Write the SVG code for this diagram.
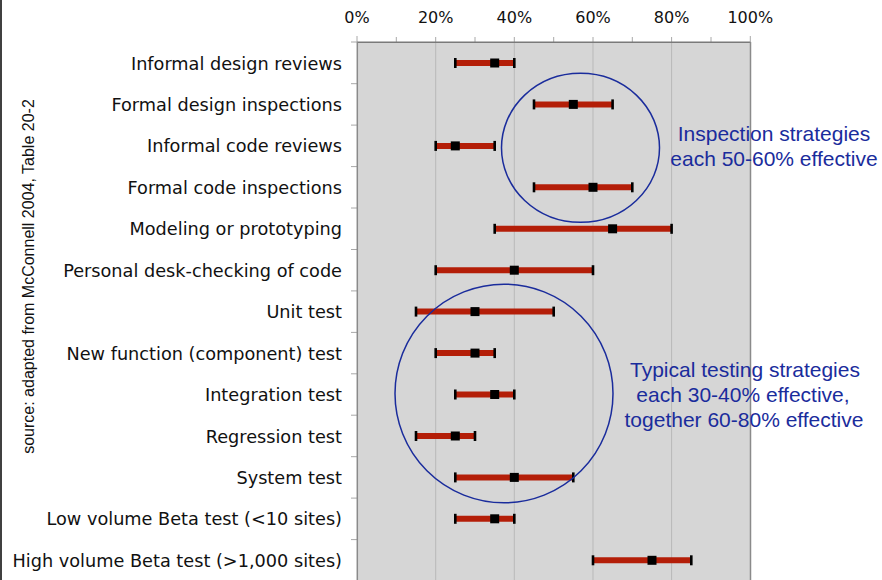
<svg xmlns="http://www.w3.org/2000/svg" width="882" height="580" viewBox="0 0 882 580">
<style>
.lbl{font-family:"DejaVu Sans",Verdana,sans-serif;font-size:17.7px;fill:#111;text-anchor:end}
.ax{font-family:"DejaVu Sans",Verdana,sans-serif;font-size:16px;fill:#111;text-anchor:middle}
.ann{font-family:"Liberation Sans",Arial,sans-serif;font-size:21px;fill:#1a2c9c;text-anchor:middle}
.src{font-family:"Liberation Sans",Arial,sans-serif;font-size:16px;fill:#111;text-anchor:middle}
.bar{stroke:#b41e08;stroke-width:6}
.cap{stroke:#000;stroke-width:2.6}
.med{fill:#000}
.grid{stroke:#b9b9b9;stroke-width:1}
.tick{stroke:#a8a8a8;stroke-width:1}
.ring{fill:none;stroke:#1a2c9c;stroke-width:1.5}
</style>
<rect width="882" height="580" fill="#fff"/>
<line x1="1" y1="0" x2="1" y2="580" stroke="#000" stroke-width="1.5"/>
<g id="plot">
<rect x="357" y="42" width="393.3" height="540" fill="#d6d6d6"/>
<g class="grid">
<line x1="435.7" y1="42" x2="435.7" y2="580"/>
<line x1="514.3" y1="42" x2="514.3" y2="580"/>
<line x1="593" y1="42" x2="593" y2="580"/>
<line x1="671.6" y1="42" x2="671.6" y2="580"/>
</g>
<g class="tick">
<line x1="357" y1="36" x2="357" y2="42"/>
<line x1="396.3" y1="37" x2="396.3" y2="42"/>
<line x1="435.7" y1="37" x2="435.7" y2="42"/>
<line x1="475" y1="37" x2="475" y2="42"/>
<line x1="514.3" y1="37" x2="514.3" y2="42"/>
<line x1="553.7" y1="37" x2="553.7" y2="42"/>
<line x1="593" y1="37" x2="593" y2="42"/>
<line x1="632.3" y1="37" x2="632.3" y2="42"/>
<line x1="671.6" y1="37" x2="671.6" y2="42"/>
<line x1="711" y1="37" x2="711" y2="42"/>
<line x1="750.3" y1="36" x2="750.3" y2="42"/>
<line x1="351" y1="42" x2="357" y2="42"/>
<line x1="351" y1="83.7" x2="357" y2="83.7"/>
<line x1="351" y1="125.1" x2="357" y2="125.1"/>
<line x1="351" y1="166.6" x2="357" y2="166.6"/>
<line x1="351" y1="208" x2="357" y2="208"/>
<line x1="351" y1="249.5" x2="357" y2="249.5"/>
<line x1="351" y1="290.9" x2="357" y2="290.9"/>
<line x1="351" y1="332.4" x2="357" y2="332.4"/>
<line x1="351" y1="373.8" x2="357" y2="373.8"/>
<line x1="351" y1="415.2" x2="357" y2="415.2"/>
<line x1="351" y1="456.7" x2="357" y2="456.7"/>
<line x1="351" y1="498.1" x2="357" y2="498.1"/>
<line x1="351" y1="539.6" x2="357" y2="539.6"/>
</g>
<line x1="357" y1="42.3" x2="750.3" y2="42.3" stroke="#7a7a7a" stroke-width="1.5"/>
<line x1="357.3" y1="42" x2="357.3" y2="580" stroke="#8a8a8a" stroke-width="1.5"/>
<line x1="750.5" y1="42" x2="750.5" y2="580" stroke="#8a8a8a" stroke-width="1.5"/>
</g>
<g id="axis-labels">
<text class="ax" x="357" y="22.5">0%</text>
<text class="ax" x="435.7" y="22.5">20%</text>
<text class="ax" x="514.3" y="22.5">40%</text>
<text class="ax" x="593" y="22.5">60%</text>
<text class="ax" x="671.6" y="22.5">80%</text>
<text class="ax" x="750.3" y="22.5">100%</text>
</g>
<g id="row-informal-design-reviews">
<text class="lbl" x="342" y="69.5">Informal design reviews</text>
<line class="bar" x1="455.3" y1="63" x2="514.3" y2="63"/>
<line class="cap" x1="455.3" y1="58" x2="455.3" y2="68"/><line class="cap" x1="514.3" y1="58" x2="514.3" y2="68"/>
<rect class="med" x="490.2" y="58.5" width="9" height="9"/>
</g>
<g id="row-formal-design-inspections">
<text class="lbl" x="342" y="110.9">Formal design inspections</text>
<line class="bar" x1="534" y1="104.4" x2="612.6" y2="104.4"/>
<line class="cap" x1="534" y1="99.4" x2="534" y2="109.4"/><line class="cap" x1="612.6" y1="99.4" x2="612.6" y2="109.4"/>
<rect class="med" x="568.8" y="99.9" width="9" height="9"/>
</g>
<g id="row-informal-code-reviews">
<text class="lbl" x="342" y="152.4">Informal code reviews</text>
<line class="bar" x1="435.7" y1="145.9" x2="494.7" y2="145.9"/>
<line class="cap" x1="435.7" y1="140.9" x2="435.7" y2="150.9"/><line class="cap" x1="494.7" y1="140.9" x2="494.7" y2="150.9"/>
<rect class="med" x="450.8" y="141.4" width="9" height="9"/>
</g>
<g id="row-formal-code-inspections">
<text class="lbl" x="342" y="193.8">Formal code inspections</text>
<line class="bar" x1="534" y1="187.3" x2="632.3" y2="187.3"/>
<line class="cap" x1="534" y1="182.3" x2="534" y2="192.3"/><line class="cap" x1="632.3" y1="182.3" x2="632.3" y2="192.3"/>
<rect class="med" x="588.5" y="182.8" width="9" height="9"/>
</g>
<g id="row-modeling-or-prototyping">
<text class="lbl" x="342" y="235.3">Modeling or prototyping</text>
<line class="bar" x1="494.7" y1="228.8" x2="671.6" y2="228.8"/>
<line class="cap" x1="494.7" y1="223.8" x2="494.7" y2="233.8"/><line class="cap" x1="671.6" y1="223.8" x2="671.6" y2="233.8"/>
<rect class="med" x="608.1" y="224.3" width="9" height="9"/>
</g>
<g id="row-personal-desk-checking">
<text class="lbl" x="342" y="276.7">Personal desk-checking of code</text>
<line class="bar" x1="435.7" y1="270.2" x2="593" y2="270.2"/>
<line class="cap" x1="435.7" y1="265.2" x2="435.7" y2="275.2"/><line class="cap" x1="593" y1="265.2" x2="593" y2="275.2"/>
<rect class="med" x="509.8" y="265.7" width="9" height="9"/>
</g>
<g id="row-unit-test">
<text class="lbl" x="342" y="318.1">Unit test</text>
<line class="bar" x1="416" y1="311.6" x2="553.7" y2="311.6"/>
<line class="cap" x1="416" y1="306.6" x2="416" y2="316.6"/><line class="cap" x1="553.7" y1="306.6" x2="553.7" y2="316.6"/>
<rect class="med" x="470.5" y="307.1" width="9" height="9"/>
</g>
<g id="row-new-function-test">
<text class="lbl" x="342" y="359.6">New function (component) test</text>
<line class="bar" x1="435.7" y1="353.1" x2="494.7" y2="353.1"/>
<line class="cap" x1="435.7" y1="348.1" x2="435.7" y2="358.1"/><line class="cap" x1="494.7" y1="348.1" x2="494.7" y2="358.1"/>
<rect class="med" x="470.5" y="348.6" width="9" height="9"/>
</g>
<g id="row-integration-test">
<text class="lbl" x="342" y="401">Integration test</text>
<line class="bar" x1="455.3" y1="394.5" x2="514.3" y2="394.5"/>
<line class="cap" x1="455.3" y1="389.5" x2="455.3" y2="399.5"/><line class="cap" x1="514.3" y1="389.5" x2="514.3" y2="399.5"/>
<rect class="med" x="490.2" y="390" width="9" height="9"/>
</g>
<g id="row-regression-test">
<text class="lbl" x="342" y="442.5">Regression test</text>
<line class="bar" x1="416" y1="436" x2="475" y2="436"/>
<line class="cap" x1="416" y1="431" x2="416" y2="441"/><line class="cap" x1="475" y1="431" x2="475" y2="441"/>
<rect class="med" x="450.8" y="431.5" width="9" height="9"/>
</g>
<g id="row-system-test">
<text class="lbl" x="342" y="483.9">System test</text>
<line class="bar" x1="455.3" y1="477.4" x2="573.3" y2="477.4"/>
<line class="cap" x1="455.3" y1="472.4" x2="455.3" y2="482.4"/><line class="cap" x1="573.3" y1="472.4" x2="573.3" y2="482.4"/>
<rect class="med" x="509.8" y="472.9" width="9" height="9"/>
</g>
<g id="row-low-volume-beta">
<text class="lbl" x="342" y="525.3">Low volume Beta test (&lt;10 sites)</text>
<line class="bar" x1="455.3" y1="518.8" x2="514.3" y2="518.8"/>
<line class="cap" x1="455.3" y1="513.8" x2="455.3" y2="523.8"/><line class="cap" x1="514.3" y1="513.8" x2="514.3" y2="523.8"/>
<rect class="med" x="490.2" y="514.3" width="9" height="9"/>
</g>
<g id="row-high-volume-beta">
<text class="lbl" x="342" y="566.8">High volume Beta test (&gt;1,000 sites)</text>
<line class="bar" x1="593" y1="560.3" x2="691.3" y2="560.3"/>
<line class="cap" x1="593" y1="555.3" x2="593" y2="565.3"/><line class="cap" x1="691.3" y1="555.3" x2="691.3" y2="565.3"/>
<rect class="med" x="647.5" y="555.8" width="9" height="9"/>
</g>
<g id="inspection-group">
<ellipse class="ring" cx="580.5" cy="147.8" rx="79" ry="74.5"/>
<text class="ann" x="774" y="140.5">Inspection strategies</text>
<text class="ann" x="774" y="166">each 50-60% effective</text>
</g>
<g id="testing-group">
<ellipse class="ring" cx="504" cy="393.5" rx="109" ry="109.3"/>
<text class="ann" x="745" y="376.5">Typical testing strategies</text>
<text class="ann" x="743" y="401.5">each 30-40% effective,</text>
<text class="ann" x="744" y="426.5">together 60-80% effective</text>
</g>
<g id="connectors"/>
<text class="src" transform="translate(34,276.5) rotate(-90)">source: adapted from McConnell 2004, Table 20-2</text>
</svg>
